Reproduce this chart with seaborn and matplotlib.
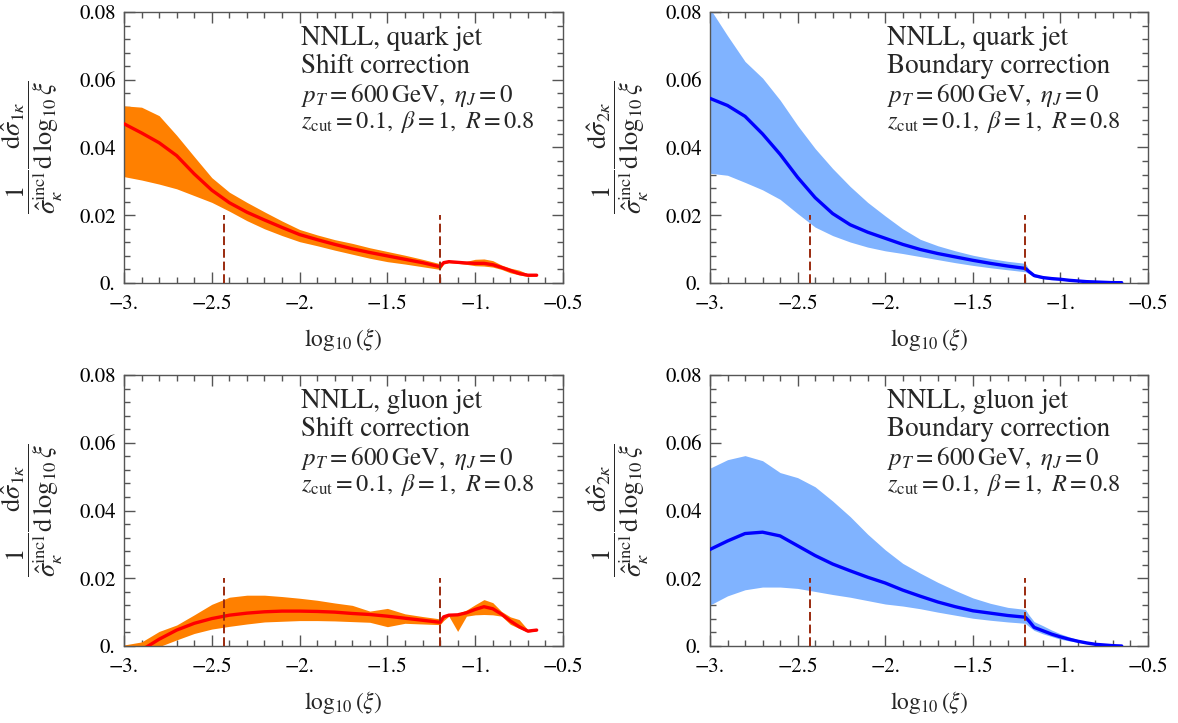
import numpy as np
import pandas as pd
import matplotlib
matplotlib.use('Agg')
import matplotlib.pyplot as plt
import seaborn as sns
from matplotlib.ticker import MultipleLocator, FixedLocator

# ===================== style =====================
sns.set_theme(style='ticks')
plt.rcParams['font.family'] = ['STIXGeneral', 'DejaVu Serif']
plt.rcParams['mathtext.fontset'] = 'stix'
plt.rcParams['axes.unicode_minus'] = True

# ===================== data =====================
log_xi = [-3.0, -2.9, -2.8, -2.7, -2.6, -2.5, -2.4, -2.3, -2.2, -2.1,
          -2.0, -1.9, -1.8, -1.7, -1.6, -1.5, -1.4, -1.3, -1.2, -1.18,
          -1.15, -1.1, -1.05, -1.0, -0.95, -0.9, -0.85, -0.8, -0.75, -0.7, -0.65]

# quark jet, shift correction
quark_shift_central = [0.0470, 0.0443, 0.0414, 0.0376, 0.0322, 0.0274, 0.0237, 0.0209, 0.0186, 0.0164,
                       0.0143, 0.0128, 0.0114, 0.0101, 0.0090, 0.0080, 0.0070, 0.0060, 0.0048, 0.0060,
                       0.0063, 0.0061, 0.0059, 0.0058, 0.0058, 0.0054, 0.0046, 0.0037, 0.0028, 0.0023, 0.0023]
quark_shift_upper = [0.0523, 0.0519, 0.0494, 0.0436, 0.0373, 0.0311, 0.0268, 0.0238, 0.0210, 0.0183,
                     0.0158, 0.0142, 0.0128, 0.0117, 0.0104, 0.0093, 0.0082, 0.0070, 0.0057, 0.0063,
                     0.0066, 0.0064, 0.0064, 0.0070, 0.0071, 0.0066, 0.0053, 0.0044, 0.0038, 0.0027, 0.0025]
quark_shift_lower = [0.0314, 0.0304, 0.0292, 0.0278, 0.0258, 0.0238, 0.0212, 0.0184, 0.0160, 0.0140,
                     0.0122, 0.0110, 0.0097, 0.0085, 0.0073, 0.0063, 0.0056, 0.0048, 0.0040, 0.0056,
                     0.0060, 0.0058, 0.0055, 0.0051, 0.0050, 0.0047, 0.0040, 0.0030, 0.0024, 0.0019, 0.0021]

# quark jet, boundary correction
quark_bound_central = [0.0545, 0.0524, 0.0492, 0.0440, 0.0380, 0.0312, 0.0252, 0.0205, 0.0172, 0.0150,
                       0.0132, 0.0114, 0.0099, 0.0087, 0.0077, 0.0067, 0.0058, 0.0050, 0.0043, 0.0034,
                       0.0022, 0.0016, 0.0013, 0.0011, 0.0008, 0.0006, 0.0004, 0.0003, 0.0002, 0.0001, 0.0001]
quark_bound_upper = [0.0810, 0.0730, 0.0654, 0.0605, 0.0540, 0.0465, 0.0397, 0.0338, 0.0285, 0.0238,
                     0.0198, 0.0160, 0.0129, 0.0110, 0.0095, 0.0082, 0.0072, 0.0064, 0.0058, 0.0040,
                     0.0027, 0.0020, 0.0016, 0.0013, 0.0010, 0.0008, 0.0005, 0.0004, 0.0003, 0.0002, 0.0001]
quark_bound_lower = [0.0324, 0.0318, 0.0297, 0.0275, 0.0247, 0.0205, 0.0165, 0.0140, 0.0121, 0.0106,
                     0.0095, 0.0087, 0.0078, 0.0069, 0.0060, 0.0052, 0.0045, 0.0039, 0.0033, 0.0028,
                     0.0018, 0.0013, 0.0010, 0.0009, 0.0007, 0.0005, 0.0003, 0.0002, 0.0001, 0.0001, 0.0000]

# gluon jet, shift correction
gluon_shift_central = [-0.0040, -0.0012, 0.0020, 0.0047, 0.0067, 0.0081, 0.0091, 0.0097, 0.0101, 0.0103,
                       0.0103, 0.0102, 0.0100, 0.0096, 0.0093, 0.0088, 0.0082, 0.0076, 0.0070, 0.0086,
                       0.0091, 0.0092, 0.0098, 0.0108, 0.0116, 0.0110, 0.0094, 0.0074, 0.0057, 0.0044, 0.0047]
gluon_shift_upper = [0.0003, 0.0012, 0.0043, 0.0062, 0.0092, 0.0123, 0.0144, 0.0150, 0.0150, 0.0146,
                     0.0141, 0.0135, 0.0127, 0.0120, 0.0103, 0.0111, 0.0095, 0.0087, 0.0080, 0.0088,
                     0.0093, 0.0096, 0.0106, 0.0122, 0.0137, 0.0128, 0.0102, 0.0086, 0.0078, 0.0048, 0.0047]
gluon_shift_lower = [-0.0080, -0.0040, -0.0002, 0.0018, 0.0037, 0.0050, 0.0058, 0.0065, 0.0071, 0.0073,
                     0.0075, 0.0075, 0.0074, 0.0072, 0.0070, 0.0057, 0.0067, 0.0065, 0.0063, 0.0075,
                     0.0088, 0.0043, 0.0088, 0.0092, 0.0093, 0.0092, 0.0088, 0.0064, 0.0052, 0.0041, 0.0045]

# gluon jet, boundary correction
gluon_bound_central = [0.0285, 0.0310, 0.0332, 0.0336, 0.0325, 0.0296, 0.0267, 0.0242, 0.0222, 0.0203,
                       0.0186, 0.0165, 0.0147, 0.0130, 0.0116, 0.0104, 0.0097, 0.0090, 0.0085, 0.0074,
                       0.0055, 0.0045, 0.0035, 0.0027, 0.0020, 0.0014, 0.0009, 0.0005, 0.0003, 0.0001, 0.0000]
gluon_bound_upper = [0.0525, 0.0550, 0.0562, 0.0547, 0.0512, 0.0497, 0.0470, 0.0428, 0.0382, 0.0330,
                     0.0284, 0.0244, 0.0215, 0.0188, 0.0164, 0.0142, 0.0126, 0.0114, 0.0108, 0.0092,
                     0.0072, 0.0060, 0.0047, 0.0036, 0.0027, 0.0019, 0.0012, 0.0007, 0.0004, 0.0002, 0.0001]
gluon_bound_lower = [0.0121, 0.0148, 0.0166, 0.0174, 0.0174, 0.0170, 0.0161, 0.0152, 0.0144, 0.0134,
                     0.0124, 0.0118, 0.0110, 0.0100, 0.0091, 0.0082, 0.0076, 0.0071, 0.0067, 0.0058,
                     0.0046, 0.0036, 0.0028, 0.0020, 0.0015, 0.0011, 0.0007, 0.0004, 0.0002, 0.0001, 0.0000]

# transition points (dashed markers)
transition_x = [-2.43, -1.2]
transition_height = 0.02

xtick_values = [-3.0, -2.5, -2.0, -1.5, -1.0, -0.5]
xtick_labels = ['\u22123.', '\u22122.5', '\u22122.', '\u22121.5', '\u22121.', '\u22120.5']
ytick_values = [0.0, 0.02, 0.04, 0.06, 0.08]
ytick_labels = ['0.', '0.02', '0.04', '0.06', '0.08']

jet_labels = ['NNLL, quark jet', 'NNLL, quark jet', 'NNLL, gluon jet', 'NNLL, gluon jet']
corr_labels = ['Shift correction', 'Boundary correction', 'Shift correction', 'Boundary correction']
kin_label = r'$p_T = 600\,\mathrm{GeV},\ \eta_J = 0$'
par_label = r'$z_{\mathrm{cut}} = 0.1,\ \beta = 1,\ R = 0.8$'

ylabel_1 = r'$\dfrac{1}{\hat{\sigma}_{\kappa}^{\mathrm{incl}}}\dfrac{\mathrm{d}\hat{\sigma}_{1\kappa}}{\mathrm{d}\,\log_{10}\xi}$'
ylabel_2 = r'$\dfrac{1}{\hat{\sigma}_{\kappa}^{\mathrm{incl}}}\dfrac{\mathrm{d}\hat{\sigma}_{2\kappa}}{\mathrm{d}\,\log_{10}\xi}$'

# ===================== plotting =====================
ORANGE, RED = '#ff8000', '#ff0000'
LIGHTBLUE, BLUE = '#80b3ff', '#0000ff'
DASH = '#9a2a0e'
FRAME = '#555555'

panels = [
    (quark_shift_central, quark_shift_upper, quark_shift_lower, RED, ORANGE, ylabel_1),
    (quark_bound_central, quark_bound_upper, quark_bound_lower, BLUE, LIGHTBLUE, ylabel_2),
    (gluon_shift_central, gluon_shift_upper, gluon_shift_lower, RED, ORANGE, ylabel_1),
    (gluon_bound_central, gluon_bound_upper, gluon_bound_lower, BLUE, LIGHTBLUE, ylabel_2),
]

W, H = 1178, 723
boxes = [(124, 12, 439, 271), (710, 12, 438, 271), (124, 375, 439, 271), (710, 375, 438, 271)]

fig = plt.figure(figsize=(W / 100, H / 100), dpi=100)
fig.patch.set_facecolor('white')

for i, (central, upper, lower, lc, bc, ylab) in enumerate(panels):
    l, t, w, h = boxes[i]
    ax = fig.add_axes([l / W, 1 - (t + h) / H, w / W, h / H])
    df = pd.DataFrame({'log_xi': log_xi, 'central': central, 'upper': upper, 'lower': lower})

    ax.fill_between(df['log_xi'], df['lower'], df['upper'], color=bc, linewidth=0, zorder=1)
    sns.lineplot(data=df, x='log_xi', y='central', ax=ax, color=lc, linewidth=2.4, zorder=3)
    ax.vlines(transition_x, 0, transition_height, colors=DASH, linewidth=1.4,
              linestyles=(0, (4.5, 2)), zorder=4)

    ax.set_xlim(-3.0, -0.5)
    ax.set_ylim(0.0, 0.08)
    ax.xaxis.set_major_locator(FixedLocator(xtick_values))
    ax.set_xticklabels(xtick_labels)
    ax.xaxis.set_minor_locator(MultipleLocator(0.1))
    ax.yaxis.set_major_locator(FixedLocator(ytick_values))
    ax.set_yticklabels(ytick_labels)
    ax.yaxis.set_minor_locator(MultipleLocator(0.004))
    ax.tick_params(which='both', direction='in', top=True, right=True, color=FRAME,
                   labelsize=15, labelcolor='black', width=1.0)
    ax.tick_params(which='major', length=8)
    ax.tick_params(which='minor', length=4)
    ax.tick_params(axis='x', which='major', pad=8)
    ax.tick_params(axis='y', which='major', pad=6)
    for sp in ax.spines.values():
        sp.set_color(FRAME)
        sp.set_linewidth(1.0)

    ax.set_xlabel(r'$\log_{10}(\xi)$', fontsize=17, va='top')
    ax.xaxis.set_label_coords(0.5, -0.16)
    ax.set_ylabel(ylab, fontsize=19)
    ax.yaxis.set_label_coords(-0.135, 0.5)

    tx = 0.403
    ax.text(tx, 0.878, jet_labels[i], transform=ax.transAxes, fontsize=19.5, va='baseline')
    ax.text(tx, 0.774, corr_labels[i], transform=ax.transAxes, fontsize=19.5, va='baseline')
    ax.text(tx, 0.669, kin_label, transform=ax.transAxes, fontsize=18, va='baseline')
    ax.text(tx, 0.571, par_label, transform=ax.transAxes, fontsize=17.5, va='baseline')

fig.savefig('out.png', dpi=100, facecolor='white')
